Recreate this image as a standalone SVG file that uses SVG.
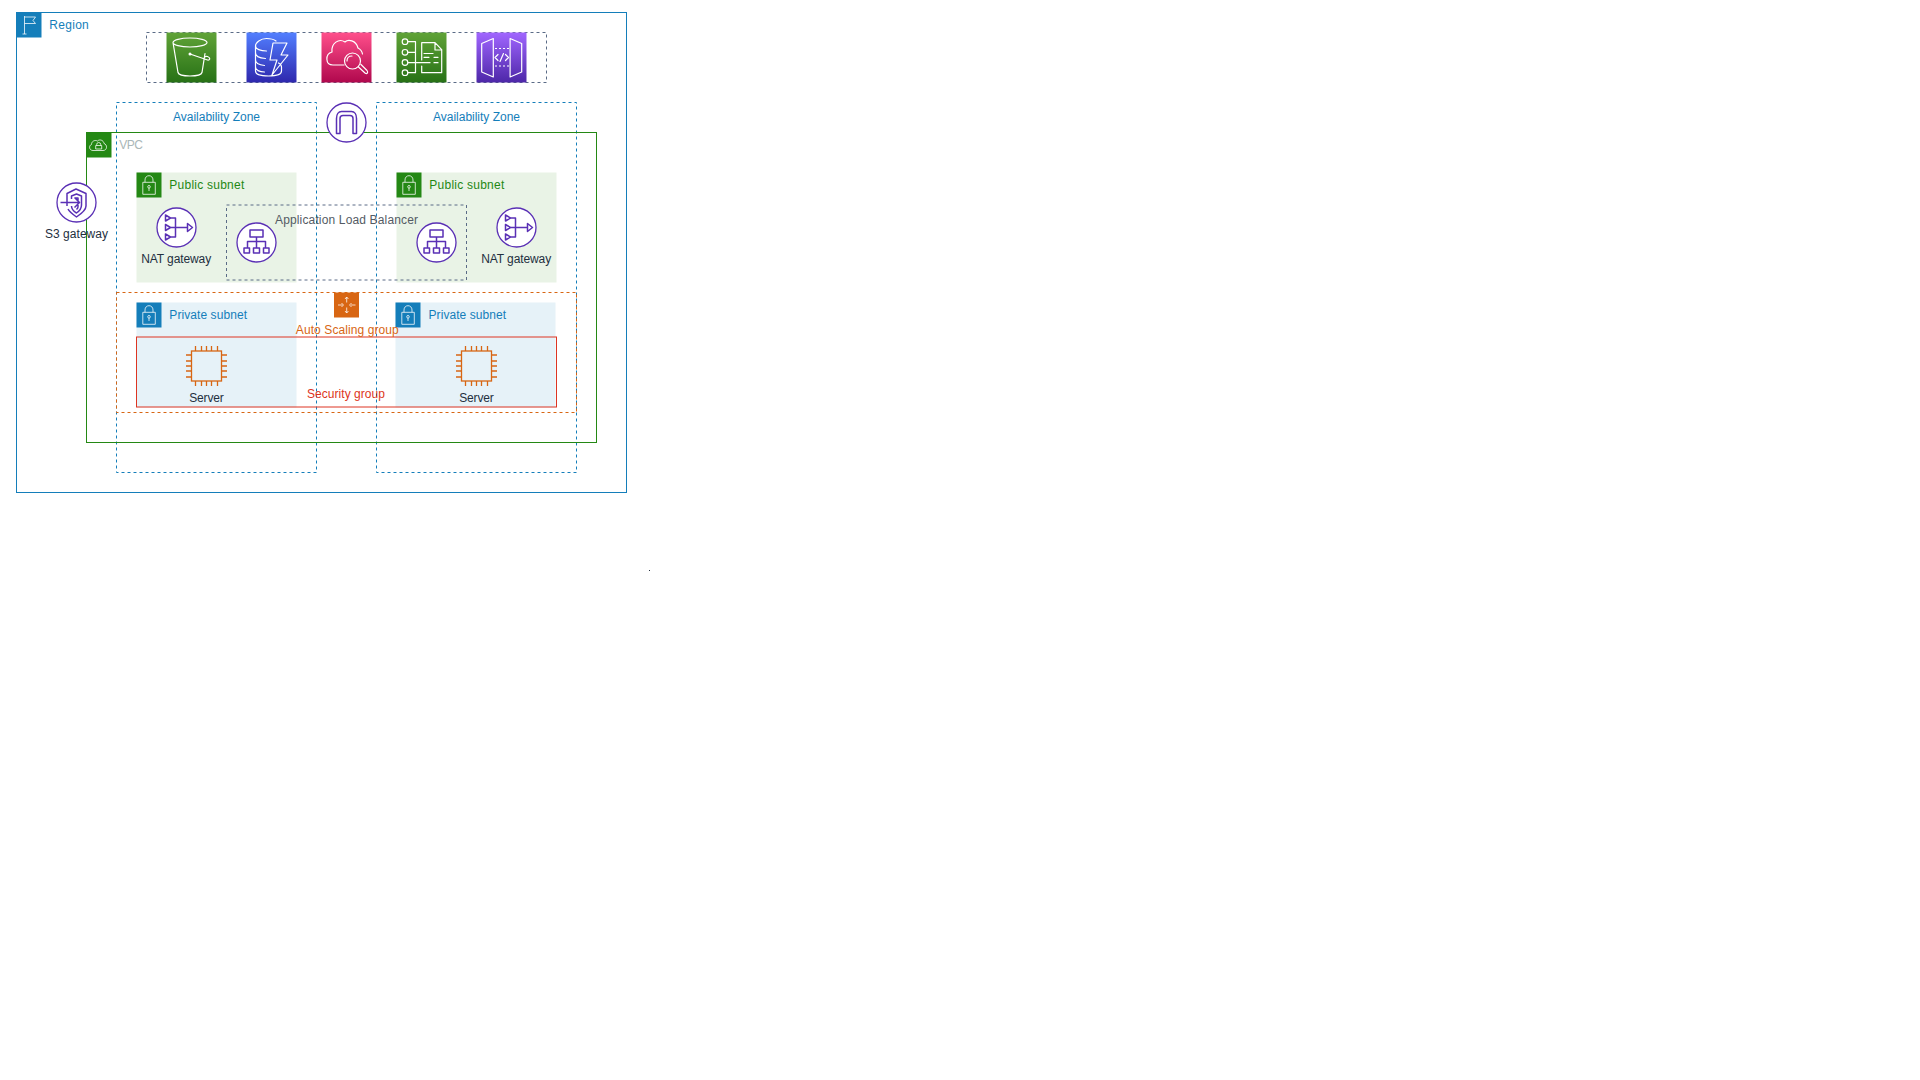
<svg xmlns="http://www.w3.org/2000/svg" width="1920" height="1080" viewBox="0 0 1920 1080">
<style>
text{font-family:"Liberation Sans",Arial,sans-serif;font-size:12px}
.m{text-anchor:middle}
.b{fill:#232F3E}
.region{fill:none;stroke:#147EBA}
.az{fill:none;stroke:#147EBA;stroke-dasharray:3 3}
.vpc{fill:none;stroke:#248814}
.top{fill:none;stroke:#5A6B86;stroke-dasharray:3 3}
.alb{fill:none;stroke:#5A6B86;stroke-dasharray:3 3}
.asg{fill:none;stroke:#D86613;stroke-dasharray:3 3}
.sg{fill:none;stroke:#DD3522}
.pub{fill:#E9F3E6}
.pri{fill:#E6F2F8}
.blue{fill:#147EBA}
.green{fill:#248814}
.wl{fill:none;stroke:#fff;stroke-width:1.2;stroke-linecap:round;stroke-linejoin:round}
.wd{fill:none;stroke:#fff;stroke-width:1.2;stroke-dasharray:2 2}
.wt{fill:none;stroke:#fff;stroke-opacity:.85;stroke-width:.9;stroke-linejoin:round}
.pl{fill:none;stroke:#5A30B5;stroke-width:1.5;stroke-linejoin:round}
.ol{fill:none;stroke:#D86613;stroke-width:1.3}
.circ{fill:#fff;stroke:#5A30B5;stroke-width:1.3}
</style>
<defs>
<linearGradient id="gG" x1="0" y1="1" x2="0" y2="0"><stop offset="0" stop-color="#277116"/><stop offset="1" stop-color="#60A337"/></linearGradient>
<linearGradient id="gB" x1="0" y1="1" x2="0" y2="0"><stop offset="0" stop-color="#2E27AD"/><stop offset="1" stop-color="#527FFF"/></linearGradient>
<linearGradient id="gP" x1="0" y1="1" x2="0" y2="0"><stop offset="0" stop-color="#B0084D"/><stop offset="1" stop-color="#FF4F8B"/></linearGradient>
<linearGradient id="gV" x1="0" y1="1" x2="0" y2="0"><stop offset="0" stop-color="#4D27A8"/><stop offset="1" stop-color="#A166FF"/></linearGradient>
<g id="lock"><path class="wt" d="M8.500 9.800V7.500c0-2.700 1.800-4.300 4-4.300s4 1.600 4 4.300v2.300M6.300 9.800h12.500v12H6.300zM12.500 15.500v3"/><circle class="wt" cx="12.500" cy="14.300" r="1.300"/></g>
<g id="nat"><circle class="circ" r="19.500"/><path class="pl" d="M-11-12.500v6l5-3zM-11-3v6l5-3zM-11 6.500v6l5-3zM-6-9.500H-1v19H-6M-6 0H11M11-4v8l5-4z"/></g>
<g id="lb"><circle class="circ" r="19.500"/><path class="pl" d="M-6.500-12.500h13v7h-13zM0-5.500V-1M-9 5.500V-1H9V5.500M0-1V5.500M-12.500 5.500h5.500v5h-5.500zM-3 5.500h6v5h-6zM7 5.500h5.500v5H7z"/></g>
<g id="ec2"><rect class="ol" x="5.500" y="5" width="30" height="30"/><path class="ol" d="M9.500 0V5M15.500 0V5M20.500 0V5M25.500 0V5M31.500 0V5M9.500 35v5M15.500 35v5M20.500 35v5M25.500 35v5M31.500 35v5M0 9H5M0 15H5M0 20H5M0 25H5M0 31H5M36 9h5M36 15h5M36 20h5M36 25h5M36 31h5"/></g>
</defs>

<rect class="region" x="16.500" y="12.500" width="610" height="480"/>
<g id="region-label"><rect class="blue" x="16.500" y="12.500" width="25" height="25"/><path class="wt" d="M24.500 16v18M22.500 34h4M24.500 17h11l-2.500 3.500 2.500 3h-11"/><text x="49.300" y="29" fill="#147EBA" textLength="39.500">Region</text></g>

<g id="services">
<rect class="top" x="146.500" y="32.500" width="400" height="50"/>
<g id="s3"><rect x="166.500" y="32.500" width="50" height="50" fill="url(#gG)"/><path class="wl" d="M173 42.500c0-2.500 7.500-4.500 17-4.500s17 2 17 4.500-7.500 4.500-17 4.500-17-2-17-4.500zM173 42.500l5 30c.5 2 5 3.500 12 3.500s11.500-1.500 12-3.500l3-19M190 54l17.500 6c3 .5 3-2.500 0-3.500-2-.5-3 .5-3.500 1.500"/><circle cx="190" cy="54" r="1.500" fill="#fff"/></g>
<g id="dynamodb"><rect x="246.500" y="32.500" width="50" height="50" fill="url(#gB)"/><path class="wl" d="M255.500 46c0-3.500 5-7.500 11-7.500 4 0 7.500 1 9.500 2.500M255.500 46c0 3 5 5 11 5M255.500 46v25c0 3 5 5 13 5s13-2 13-5v-4c0-1.500-1-3-3-4M255.500 53c0 3 4 5 10 5.500M255.500 60c0 3 4 5 9 5.500M255.500 67c0 3 4 5 9 5M273 43h14l-6 12h7l-16 20 5-15h-7z"/></g>
<g id="cloudwatch"><rect x="321.500" y="32.500" width="50" height="50" fill="url(#gP)"/><path class="wl" d="M344 65h-11c-8 0-8-11-1-13-1-9 7-14 13-10 3-3 11-2 13 6 2 1 4 3 4.500 6M352.500 53a8 8 0 1 0 0 16 8 8 0 0 0 0-16zM347 61c0-3 2-5 5-5M358.500 67l6.500 6c2 1.500 3.500-.5 2-2.500l-6-6"/></g>
<g id="config"><rect x="396.500" y="32.500" width="50" height="50" fill="url(#gG)"/><path class="wl" d="M421.700 60V42.700H435l6.700 7v23h-20V66M435 42.700V50h6.700M424 53.500h9M424 57.300h5M434 57.300h4M408 62.700h22M434 62.700h4M408 41.700h7.500V72.700H408M408 52.300h7.500"/><circle class="wl" cx="405" cy="41.700" r="2.800"/><circle class="wl" cx="405" cy="52.300" r="2.800"/><circle class="wl" cx="405" cy="62.500" r="2.800"/><circle class="wl" cx="405" cy="72.700" r="2.800"/></g>
<g id="api-gateway"><rect x="476.500" y="32.500" width="50" height="50" fill="url(#gV)"/><path class="wl" d="M481.700 43.500l11.600-5v38.500l-11.600-5zM521.700 43.500l-11.600-5v38.500l11.600-5z"/><path class="wd" d="M495 48.500h14M495 66h14"/><path class="wl" d="M498 54.500l-3 3 3 3M505.500 54.500l3 3-3 3M503.500 53.500l-3.500 8"/></g>
</g>

<g id="az-1"><rect class="az" x="116.500" y="102.500" width="200" height="370"/><text class="m" x="216.500" y="121" fill="#147EBA" textLength="87">Availability Zone</text></g>
<g id="az-2"><rect class="az" x="376.500" y="102.500" width="200" height="370"/><text class="m" x="476.500" y="121" fill="#147EBA" textLength="87">Availability Zone</text></g>

<g id="vpc"><rect class="vpc" x="86.500" y="132.500" width="510" height="310"/><rect class="green" x="86.500" y="132.500" width="25" height="25"/><path class="wt" d="M94 150.500h-1c-4 0-4.500-5-1.500-6 0-3 3-5 6-3.500 2-2 6-1 6.500 2.500 3.500 1 3.500 7-1 7zM96.700 145.500v-1a2 2 0 0 1 4 0v1M95.700 145.500h6v3.500h-6z"/><text x="119.300" y="149" fill="#AAB7B8" textLength="23.500">VPC</text></g>

<g id="public-subnet-1"><rect class="pub" x="136.500" y="172.500" width="160" height="110"/><rect class="green" x="136.500" y="172.500" width="25" height="25"/><use href="#lock" x="136.500" y="172.500"/><text x="169.300" y="189" fill="#248814" textLength="75">Public subnet</text></g>
<g id="public-subnet-2"><rect class="pub" x="396.500" y="172.500" width="160" height="110"/><rect class="green" x="396.500" y="172.500" width="25" height="25"/><use href="#lock" x="396.500" y="172.500"/><text x="429.300" y="189" fill="#248814" textLength="75">Public subnet</text></g>

<g id="alb"><rect class="alb" x="226.500" y="205" width="240" height="75"/><use href="#lb" x="256.500" y="242.500"/><use href="#lb" x="436.500" y="242.500"/><text class="m" x="346.500" y="224" fill="#545B64" textLength="143">Application Load Balancer</text></g>

<g id="nat-1"><use href="#nat" x="176.500" y="227.500"/><text class="m b" x="176.200" y="263" textLength="70">NAT gateway</text></g>
<g id="nat-2"><use href="#nat" x="516.500" y="227.500"/><text class="m b" x="516.200" y="263" textLength="70">NAT gateway</text></g>

<g id="private-subnet-1"><rect class="pri" x="136.500" y="302.500" width="160" height="105"/><rect class="blue" x="136.500" y="302.500" width="25" height="25"/><use href="#lock" x="136.500" y="302.500"/><text x="169.300" y="319" fill="#147EBA" textLength="77.700">Private subnet</text></g>
<g id="private-subnet-2"><rect class="pri" x="395.500" y="302.500" width="160" height="105"/><rect class="blue" x="395.500" y="302.500" width="25" height="25"/><use href="#lock" x="395.500" y="302.500"/><text x="428.500" y="319" fill="#147EBA" textLength="77.700">Private subnet</text></g>

<g id="security-group"><rect class="sg" x="136.500" y="337" width="420" height="70"/><text class="m" x="346" y="398" fill="#DD3522" textLength="78">Security group</text></g>
<g id="auto-scaling-group"><rect class="asg" x="116.500" y="292.500" width="460" height="120"/><rect x="334" y="292.500" width="25" height="25" fill="#D86613"/><path class="wt" d="M346.700 297v5.500M346.700 313v-5.500M338 305h4.500M355.500 305H351M345 299l1.700-2 1.700 2M345 311l1.700 2 1.700-2M341.500 303l2 2-2 2M351.500 303l-2 2 2 2"/><text class="m" x="347.300" y="334" fill="#D86613" textLength="103">Auto Scaling group</text></g>

<g id="server-1"><use href="#ec2" x="186" y="346"/><text class="m b" x="206.500" y="402" textLength="34.500">Server</text></g>
<g id="server-2"><use href="#ec2" x="456" y="346"/><text class="m b" x="476.500" y="402" textLength="34.500">Server</text></g>

<g id="internet-gateway"><circle class="circ" cx="346.500" cy="122.500" r="19.500"/><path class="pl" d="M336.500 133.500v-15c0-4 2-7 5-7h10c3 0 5 3 5 7v15h-3.500V118.500c0-2-1-3-3-3h-7c-2 0-3 1-3 3v15z"/></g>
<g id="s3-gateway"><circle class="circ" cx="76.500" cy="202.500" r="19.500"/><path class="pl" d="M67 206V193.500l9-4.500 10 4.500V206c0 4-5 8-9.500 11-3.500-2.500-7-5-8.500-8M71.500 206c0 3 2.500 5.500 5 7 3-2 5-4 5-8V196l-5-2-5 2v3M75.500 198h2.500v9c0 1-1 2-1.500 2.500M60.500 202.500h18M74.500 197.500l5 5-5 5"/><text class="m b" x="76.500" y="238" textLength="63">S3 gateway</text></g>

<g id="connectors"/>
<rect x="649" y="570" width="1" height="1" fill="#232F3E"/>
</svg>
